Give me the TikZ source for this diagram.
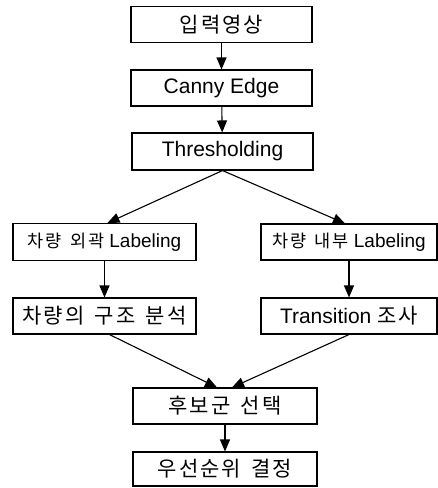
\documentclass[tikz,border=0pt]{standalone}
\usepackage{fontspec}
\setmainfont{Liberation Sans}
\newfontfamily\kr{Noto Sans CJK KR}[LetterSpace=10,WordSpace=1.5]
\usetikzlibrary{arrows.meta,calc}
\begin{document}
\begin{tikzpicture}[x=1pt,y=-1pt,
    box/.style={draw,line width=1.1pt,inner sep=0pt,minimum height=36pt,
      font=\fontsize{21}{24}\selectfont},
    small/.style={font=\fontsize{19}{22}\selectfont},
    arr/.style={-{Triangle[width=10pt,length=12pt]},line width=1.1pt}]
    \useasboundingbox (0,0) rectangle (438,488);
    % main line
    \node[box,minimum width=181pt] (input) at (221.5,24.5) {\kr 입력영상};
    \node[box,minimum width=181pt] (canny) at (221.5,88) {Canny Edge};
    \node[box,minimum width=181pt,minimum height=37pt] (thresh) at (222.5,151.5) {Thresholding};
    % two branches
    \node[box,small,minimum width=183pt,minimum height=37pt] (outlabel) at (104.5,242) {{\kr\fontsize{17.5}{22}\selectfont 차량 외곽} Labeling};
    \node[box,minimum width=183pt,minimum height=36pt] (struct) at (104.5,316) {\kr 차량의 구조 분석};
    \node[box,small,minimum width=176pt] (inlabel) at (349,242) {{\kr\fontsize{17.5}{22}\selectfont 차량 내부} Labeling};
    \node[box,minimum width=176pt] (trans) at (349,316) {Transition {\kr 조사}};
    % merge
    \node[box,minimum width=184pt] (cand) at (225,406) {\kr 후보군 선택};
    \node[box,minimum width=184pt,minimum height=34pt] (prio) at (225,469) {\kr 우선순위 결정};
    \draw[arr] (input) -- (canny);
    \draw[arr] (canny) -- (thresh);
    \draw[arr] (thresh.south) -- ($(outlabel.north)+(3,0)$);
    \draw[arr] (thresh.south) -- ($(inlabel.north)+(-4,0)$);
    \draw[arr] (outlabel) -- (struct);
    \draw[arr] (inlabel) -- (trans);
    \draw[arr] ($(struct.south)+(5,0)$) -- ($(cand.north)+(-8,0)$);
    \draw[arr] (trans.south) -- ($(cand.north)+(7,0)$);
    \draw[arr] (cand) -- (prio);
\end{tikzpicture}
\end{document}
